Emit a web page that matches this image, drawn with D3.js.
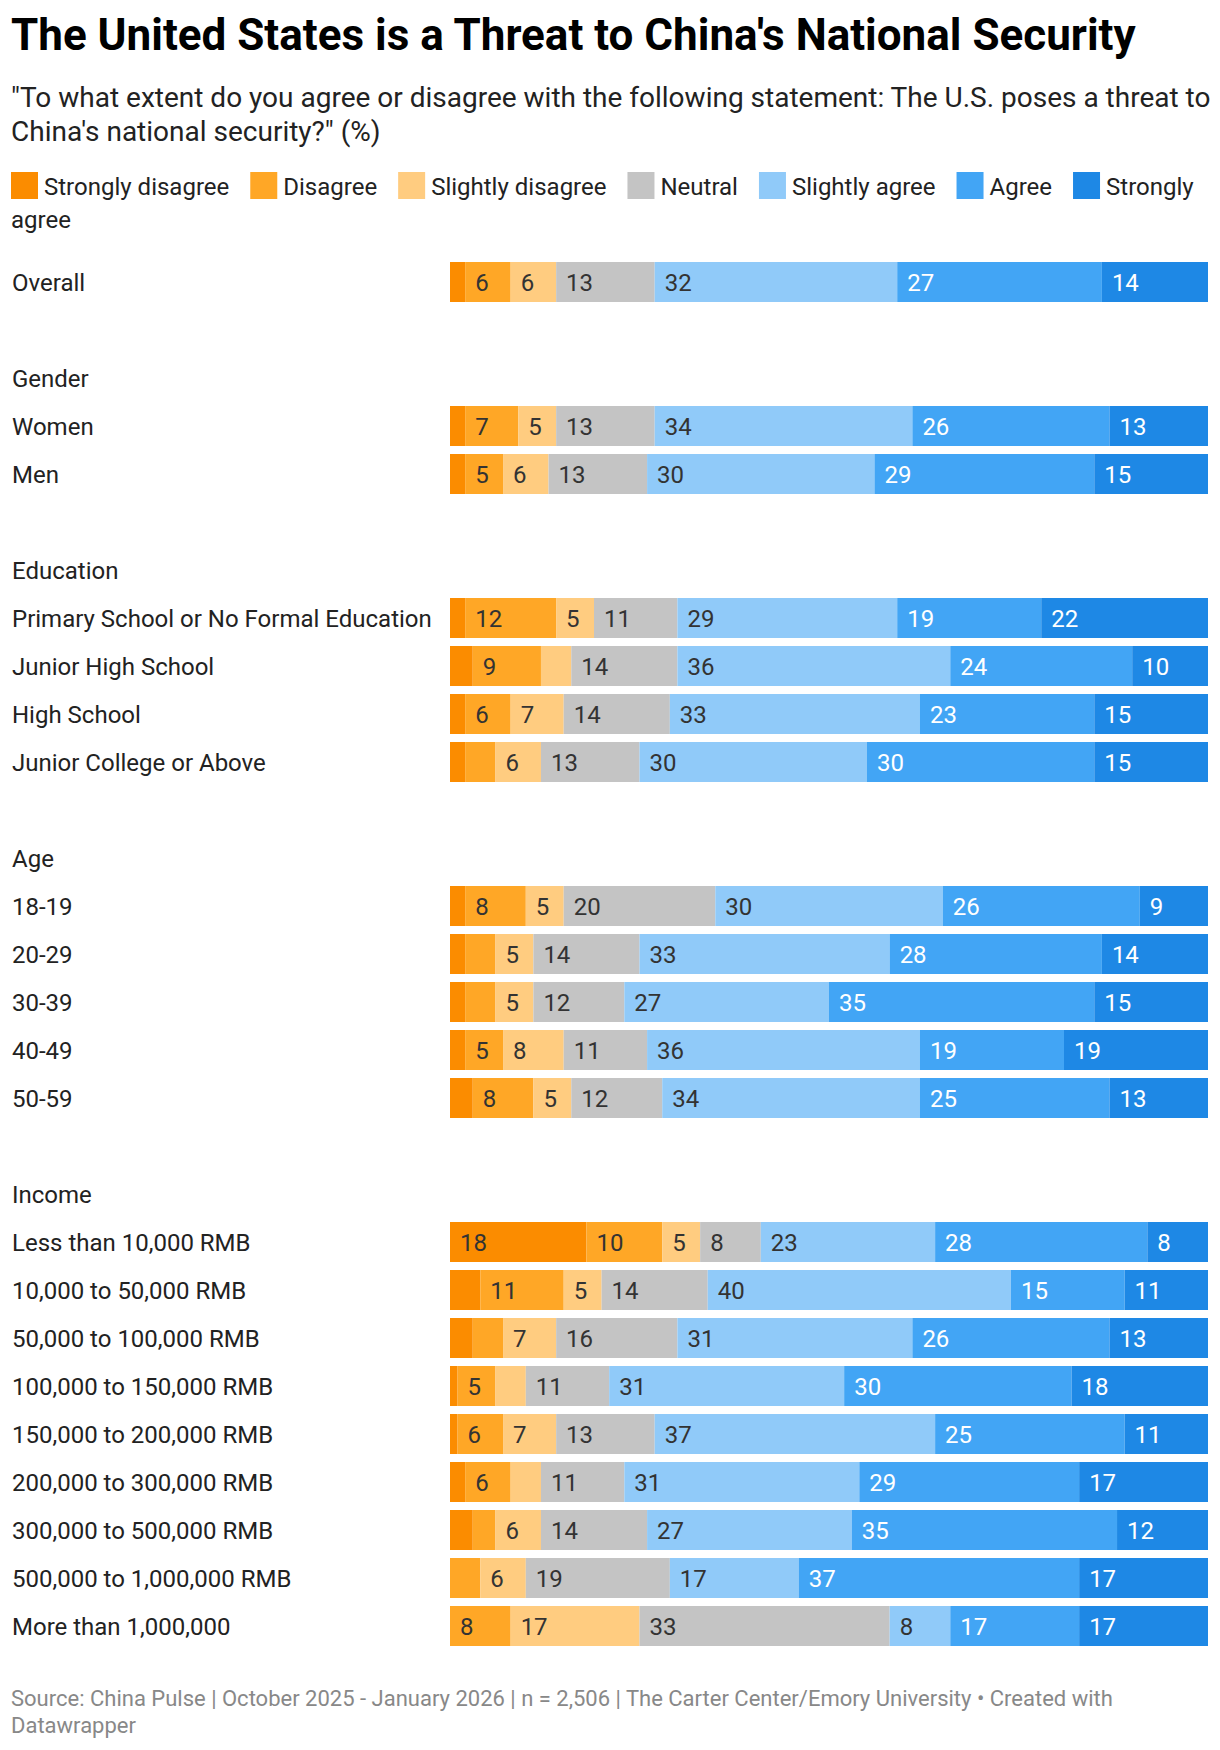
<!DOCTYPE html>
<html>
<head>
  <script src="https://d3js.org/d3.v7.min.js"></script>
  <style>
    body {
      margin: 0;
      background: #fff;
      font-family: Roboto, 'Noto Sans', sans-serif;
    }
  </style>
</head>
<body>
  <div id="chart"></div>
  <script>
    // answer categories, left to right
    const categories = ["Strongly disagree", "Disagree", "Slightly disagree", "Neutral", "Slightly agree", "Agree", "Strongly agree"];
    const colors = ["#fb8c00", "#ffa726", "#ffcc80", "#c4c4c4", "#90caf9", "#42a5f5", "#1e88e5"];

    const groupNames = ["", "Gender", "Education", "Age", "Income"];

    const rowLabels = ["Overall", "Women", "Men",
      "Primary School or No Formal Education", "Junior High School", "High School", "Junior College or Above",
      "18-19", "20-29", "30-39", "40-49", "50-59",
      "Less than 10,000 RMB", "10,000 to 50,000 RMB", "50,000 to 100,000 RMB", "100,000 to 150,000 RMB",
      "150,000 to 200,000 RMB", "200,000 to 300,000 RMB", "300,000 to 500,000 RMB", "500,000 to 1,000,000 RMB",
      "More than 1,000,000"];
    const rowGroup = [0, 1, 1, 2, 2, 2, 2, 3, 3, 3, 3, 3, 4, 4, 4, 4, 4, 4, 4, 4, 4];

    // values (%) per category, one per row
    const stronglyDisagree = [2, 2, 2, 2, 3, 2, 2, 2, 2, 2, 2, 3, 18, 4, 3, 1, 1, 2, 3, 0, 0];
    const disagree = [6, 7, 5, 12, 9, 6, 4, 8, 4, 4, 5, 8, 10, 11, 4, 5, 6, 6, 3, 4, 8];
    const slightlyDisagree = [6, 5, 6, 5, 4, 7, 6, 5, 5, 5, 8, 5, 5, 5, 7, 4, 7, 4, 6, 6, 17];
    const neutral = [13, 13, 13, 11, 14, 14, 13, 20, 14, 12, 11, 12, 8, 14, 16, 11, 13, 11, 14, 19, 33];
    const slightlyAgree = [32, 34, 30, 29, 36, 33, 30, 30, 33, 27, 36, 34, 23, 40, 31, 31, 37, 31, 27, 17, 8];
    const agree = [27, 26, 29, 19, 24, 23, 30, 26, 28, 35, 19, 25, 28, 15, 26, 30, 25, 29, 35, 37, 17];
    const stronglyAgree = [14, 13, 15, 22, 10, 15, 15, 9, 14, 15, 19, 13, 8, 11, 13, 18, 11, 17, 12, 17, 17];

    const series = [stronglyDisagree, disagree, slightlyDisagree, neutral, slightlyAgree, agree, stronglyAgree];

    const width = 1220, height = 1750;
    const left = 11, right = 1210;

    const svg = d3.select("#chart").append("svg")
      .attr("width", width)
      .attr("height", height)
      .style("display", "block");

    // header
    svg.append("text")
      .attr("x", left).attr("y", 50)
      .attr("font-size", 44).attr("font-weight", 700).attr("fill", "#000")
      .text("The United States is a Threat to China's National Security");

    const subLines = ["\"To what extent do you agree or disagree with the following statement: The U.S. poses a threat to",
      "China's national security?\" (%)"];
    svg.append("g").selectAll("text")
      .data(subLines)
      .join("text")
      .attr("x", left)
      .attr("y", (d, i) => 107 + i * 34)
      .attr("font-size", 28).attr("fill", "#222")
      .text(d => d);

    // legend, wraps word by word like the original
    const legend = svg.append("g").attr("font-size", 24).attr("fill", "#222");
    let lx = left, ly = 195;
    categories.forEach((c, i) => {
      legend.append("rect")
        .attr("x", lx).attr("y", ly - 23)
        .attr("width", 27).attr("height", 27)
        .attr("fill", colors[i]);
      lx += 33;
      c.split(" ").forEach((w, j) => {
        const t = legend.append("text").attr("x", lx).attr("y", ly).text(w);
        const tw = t.node().getComputedTextLength();
        if (lx + tw > right) {
          lx = left;
          ly += 33;
          t.attr("x", lx).attr("y", ly);
        }
        lx += tw + 6;
      });
      lx += 15;
    });

    // slots: one per row, plus header and empty spacer rows between groups
    const rows = [];
    let slot = 0;
    rowLabels.forEach((label, i) => {
      if (i > 0 && rowGroup[i] !== rowGroup[i - 1]) {
        slot += 1; // spacer
        rows.push({ header: true, label: groupNames[rowGroup[i]], slot: slot });
        slot += 1;
      }
      const r = { header: false, label: label, slot: slot, index: i };
      categories.forEach((c, k) => r[c] = series[k][i]);
      rows.push(r);
      slot += 1;
    });

    const y = d3.scaleBand()
      .domain(d3.range(slot))
      .range([262, 1646])
      .paddingInner(1 / 6)
      .paddingOuter(0);

    const x = d3.scaleLinear()
      .domain([0, 100])
      .range([450, 1208]);

    const bars = rows.filter(d => !d.header);
    const stacked = d3.stack().keys(categories)(bars);

    // row and group labels
    svg.append("g")
      .attr("font-size", 24).attr("fill", "#222")
      .selectAll("text")
      .data(rows)
      .join("text")
      .attr("x", 12)
      .attr("y", d => y(d.slot) + y.bandwidth() / 2)
      .attr("dy", "0.36em")
      .text(d => d.label);

    const layer = svg.append("g").selectAll("g")
      .data(stacked)
      .join("g")
      .attr("fill", (d, i) => colors[i]);

    layer.selectAll("rect")
      .data(d => d)
      .join("rect")
      .attr("x", d => x(d[0]))
      .attr("width", d => x(d[1]) - x(d[0]))
      .attr("y", d => y(d.data.slot))
      .attr("height", y.bandwidth());

    layer.selectAll("text")
      .data((d, i) => d.map(s => ({ s: s, k: i })).filter(o => o.s[1] - o.s[0] >= 5))
      .join("text")
      .attr("x", d => x(d.s[0]) + 10)
      .attr("y", d => y(d.s.data.slot) + y.bandwidth() / 2)
      .attr("dy", "0.36em")
      .attr("font-size", 24)
      .attr("fill", d => d.k >= 5 ? "#fff" : "#333")
      .text(d => d.s[1] - d.s[0]);

    // footer
    const notes = ["Source: China Pulse | October 2025 - January 2026 | n = 2,506 | The Carter Center/Emory University \u2022 Created with",
      "Datawrapper"];
    svg.append("g").selectAll("text")
      .data(notes)
      .join("text")
      .attr("x", left)
      .attr("y", (d, i) => 1706 + i * 27)
      .attr("font-size", 22).attr("fill", "#888")
      .text(d => d);
  </script>
</body>
</html>
